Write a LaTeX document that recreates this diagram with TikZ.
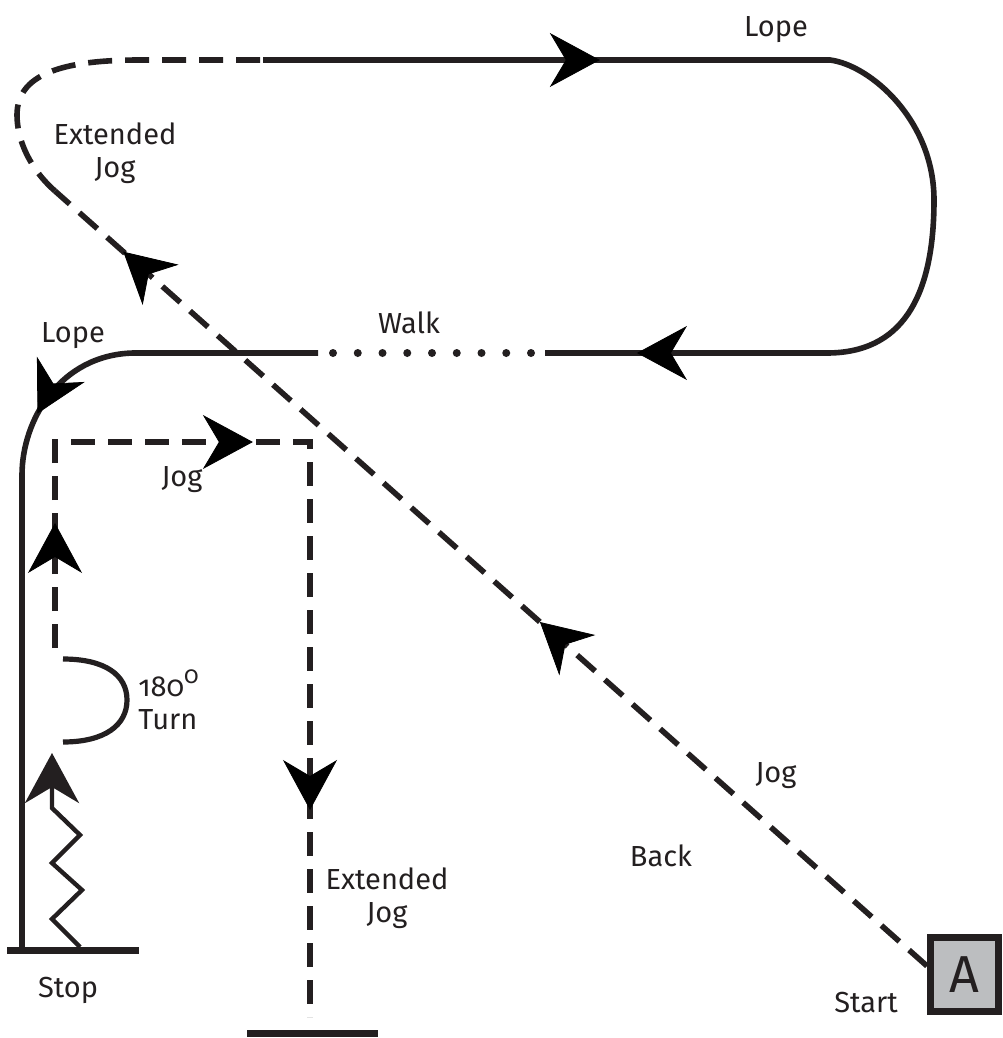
\documentclass[tikz,border=0pt]{standalone}
\usepackage{fontspec}
\setmainfont{Fira Sans}[Numbers=OldStyle]
\usepackage{xcolor}
\usetikzlibrary{arrows.meta,decorations.markings,calc}

\definecolor{ink}{HTML}{231F20}
\definecolor{markergray}{HTML}{BCBEC0}

\tikzset{
  pace/.tip={Stealth[length=25pt,width=27pt,inset=8pt]},
  lope/.style={ink, line width=2.8pt},
  jog/.style={ink, line width=2.8pt, dash pattern=on 12pt off 6.5pt},
  walk/.style={ink, line width=4pt, line cap=round, dash pattern=on 0pt off 12.375pt},
  midtip/.style={ink, decoration={markings, mark=at position #1 with {\arrow{pace}}}, decorate},
  gaitlabel/.style={font=\fontsize{14.5}{16.5}\selectfont, text=ink, inner sep=0pt, anchor=base},
  markerbox/.style={draw=ink, fill=markergray, line width=3.5pt, minimum width=34pt,
    minimum height=37pt, inner sep=0pt, text=ink, font=\fontsize{26}{26}\selectfont},
}

\begin{document}
\begin{tikzpicture}[x=0.5pt,y=-0.5pt]
      \useasboundingbox (0,0) rectangle (1002,1038);

      % Start marker and jog across the arena
      \node[markerbox] (boxA) at (964.5,974.5) {A};
      \coordinate (start) at (927,966);
      \coordinate (ext) at (55,191);
      \draw[jog] (start) -- (ext);
      \path[midtip=0.444] (start) -- (ext);
      \path[midtip=0.922] (start) -- (ext);

      % Extended jog round the corner
      \coordinate (lopeA) at (263,60);
      \draw[jog] (ext) .. controls (30,169) and (17,140) .. (17,115)
        .. controls (17,75) and (60,60) .. (140,60) -- (lopeA);

      % Lope along the top and back
      \coordinate (lopeB) at (830,60);
      \coordinate (lopeC) at (827,353);
      \coordinate (walkA) at (545,353);
      \draw[lope] (lopeA) -- (lopeB) .. controls (870,65) and (934,120) .. (934,200)
        .. controls (934,300) and (900,353) .. (lopeC) -- (walkA);
      \path[midtip=0.594] (lopeA) -- (lopeB);
      \path[midtip=0.674] (lopeC) -- (walkA);

      % Walk
      \draw[walk] (531,353) -- (333,353);

      % Lope down the left side to the stop
      \coordinate (lopeD) at (318,353);
      \coordinate (lopeE) at (133,353);
      \coordinate (lopeF) at (22,475);
      \coordinate (stopA) at (22,950);
      \draw[lope] (lopeD) -- (lopeE) .. controls (60,355) and (22,420) .. (lopeF) -- (stopA);
      \path[midtip=0.65] (lopeE) .. controls (60,355) and (22,420) .. (lopeF);
      \draw[ink, line width=3.5pt] (7,950) -- (139,950);

      % Back up
      \draw[ink, line width=2.2pt, -{pace}] (80,947) -- (52,919) -- (82,890) -- (52,863)
        -- (80,835) -- (52,808) -- (52,753);

      % 180 turn
      \draw[ink, line width=2.6pt] (63,659) .. controls (105,659) and (127,675) .. (127,700)
        .. controls (127,725) and (105,742) .. (63,742);

      % Jog up, across and extended jog down
      \coordinate (jogA) at (55,648);
      \coordinate (jogB) at (55,442);
      \coordinate (jogC) at (310,442);
      \coordinate (jogD) at (310,1017);
      \draw[jog] (jogA) -- (jogB) -- (jogC) -- (jogD);
      \path[midtip=0.607] (jogA) -- (jogB);
      \path[midtip=0.776] (jogB) -- (jogC);
      \path[midtip=0.64] (jogC) -- (jogD);
      \draw[ink, line width=3.5pt] (247,1033) -- (378,1033);

      % Labels
      \node[gaitlabel] (lopeTop) at (776,37) {Lope};
      \node[gaitlabel, align=center] (extJogTop) at (115,177) {Extended\\Jog};
      \node[gaitlabel] (lopeLeft) at (73,342) {Lope};
      \node[gaitlabel] (walkLbl) at (409,333) {Walk};
      \node[gaitlabel] (jogBox) at (182,486) {Jog};
      \node[gaitlabel, align=left, anchor=base west] (turnLbl) at (138,729)
        {\addfontfeature{Numbers=OldStyle}180\raisebox{6.5pt}{\fontsize{12}{12}\selectfont\addfontfeature{Numbers=OldStyle}0}\\Turn};
      \node[gaitlabel] (jogDiag) at (776,782) {Jog};
      \node[gaitlabel] (backLbl) at (661,866) {Back};
      \node[gaitlabel, align=center] (extJogLow) at (387,922) {Extended\\Jog};
      \node[gaitlabel] (stopLbl) at (68,997) {Stop};
      \node[gaitlabel] (startLbl) at (866,1012) {Start};
\end{tikzpicture}
\end{document}
